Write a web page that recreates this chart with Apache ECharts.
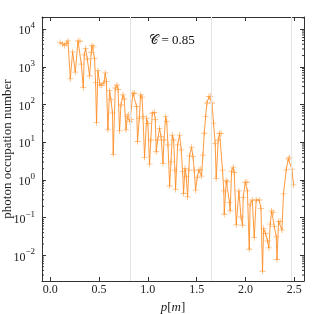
<!DOCTYPE html>
<html>
<head>
<meta charset="utf-8">
<script src="https://cdn.jsdelivr.net/npm/echarts@6/dist/echarts.min.js"></script>
<style>html,body{margin:0;padding:0;background:#fff}#c{width:322px;height:314px}</style>
</head>
<body>
<div id="c"></div>
<script>
// momentum p[m]
const momenta = [
0.100,0.125,0.147,0.165,0.181,0.205,0.229,0.256,0.284,0.304,
0.318,0.338,0.348,0.362,0.379,0.403,0.420,0.427,0.444,0.454,
0.464,0.474,0.488,0.509,0.529,0.550,0.563,0.575,0.590,0.608,
0.622,0.637,0.645,0.666,0.683,0.695,0.710,0.724,0.745,0.758,
0.776,0.789,0.800,0.816,0.830,0.847,0.864,0.885,0.894,0.912,
0.926,0.940,0.950,0.966,0.987,1.000,1.017,1.030,1.045,1.066,
1.076,1.086,1.100,1.120,1.135,1.155,1.165,1.182,1.193,1.206,
1.223,1.237,1.250,1.264,1.277,1.284,1.305,1.325,1.342,1.356,
1.366,1.380,1.393,1.407,1.420,1.427,1.448,1.462,1.475,1.489,
1.506,1.523,1.537,1.550,1.564,1.578,1.592,1.605,1.626,1.640,
1.657,1.673,1.690,1.700,1.721,1.735,1.750,1.765,1.778,1.783,
1.803,1.816,1.837,1.843,1.858,1.875,1.885,1.906,1.933,1.954,
1.970,1.977,1.998,2.015,2.020,2.039,2.048,2.070,2.090,2.110,
2.141,2.159,2.175,2.186,2.206,2.227,2.240,2.254,2.268,2.285,
2.295,2.316,2.323,2.340,2.356,2.374,2.390,2.418,2.439,2.452,
2.476,2.493
];
// photon occupation number
const occupation = [
4470,4070,3720,4170,4900,479,2510,724,4900,4790,
1180,282,2090,3090,1620,575,2450,3720,3390,1660,
389,33.1,794,331,324,372,692,407,21.4,234,
135,60.3,4.79,275,331,251,20.0,97.7,182,141,
21.4,47.9,53.7,35.5,39.8,200,200,89.1,10.5,43.6,
182,158,47.9,3.98,43.6,31.6,2.63,11.5,58.9,61.7,
39.8,5.62,11.5,23.4,14.1,2.75,11.5,47.9,35.5,8.51,
0.692,3.02,15.5,11.5,1.82,0.562,8.51,15.5,6.31,1.66,
0.437,2.04,1.23,0.355,1.82,4.37,7.41,4.17,1.82,0.537,
1.17,1.82,1.91,1.26,4.57,17.4,47.9,110,162,166,
110,32.4,9.33,1.10,11.5,17.4,17.0,1.82,0.513,0.123,
0.955,0.891,0.251,0.151,1.70,2.19,1.58,0.0646,0.513,0.105,
0.0631,0.347,0.871,0.871,0.513,0.0145,0.229,0.295,0.0295,0.295,
0.295,0.174,0.0038,0.0513,0.0380,0.0240,0.0158,0.0676,0.151,0.138,
0.0589,0.0309,0.00776,0.0794,0.0794,0.0468,0.427,1.86,3.63,3.89,
1.95,0.741
];
const resonanceLines = [0.823, 1.646, 2.469];
const xTickValues = [0, 0.5, 1.0, 1.5, 2.0, 2.5];
const xTickLabels = ['0.0', '0.5', '1.0', '1.5', '2.0', '2.5'];
const yTickExponents = [-2, -1, 0, 1, 2, 3, 4];
const annotationText = '\u{1D49E} = 0.85';

const X_MIN = -0.085, X_MAX = 2.60;
const Y_MIN = Math.pow(10, -2.68), Y_MAX = Math.pow(10, 4.324);
const FONT = 'Liberation Serif';
const AX = '#333';

const minorTicks = [];
for (let k = -3; k <= 4; k++) {
  for (let m = 2; m <= 9; m++) {
    const v = m * Math.pow(10, k);
    if (v > Y_MIN && v < Y_MAX) minorTicks.push(v);
  }
}

function xLabel(v) {
  for (let i = 0; i < xTickValues.length; i++) {
    if (Math.abs(v - xTickValues[i]) < 1e-6) return xTickLabels[i];
  }
  return '';
}
function yLabel(v) {
  const e = Math.log10(v);
  for (const t of yTickExponents) {
    if (Math.abs(e - t) < 1e-6) return '{b|10}{s|' + String(t).replace('-', '\u2212') + '}';
  }
  return '';
}

const axisBase = {
  axisLine: { show: true, onZero: false, lineStyle: { color: AX, width: 1 } },
  axisTick: { show: true, inside: true, length: 4, lineStyle: { color: AX, width: 1 } },
  splitLine: { show: false },
  minorTick: { show: false }
};

const chart = echarts.init(document.getElementById('c'), null, { renderer: 'canvas' });
chart.setOption({
  animation: false,
  backgroundColor: '#fff',
  grid: { left: 42, right: 18, top: 17, bottom: 33, containLabel: false, outerBoundsMode: 'none' },
  graphic: [{
    type: 'text', x: 172, y: 41,
    style: { text: annotationText, font: '13px "' + FONT + '"', fill: '#111', align: 'center', verticalAlign: 'middle' }
  }],
  xAxis: [
    Object.assign({}, axisBase, {
      type: 'value', min: X_MIN, max: X_MAX, position: 'bottom',
      axisLabel: { formatter: xLabel, fontFamily: FONT, fontSize: 12, color: '#222', margin: 3, showMinLabel: false, showMaxLabel: false, hideOverlap: false },
      name: '{i|p}{n|[}{i|m}{n|]}', nameLocation: 'middle', nameGap: 17,
      nameTextStyle: { rich: {
        i: { fontFamily: FONT, fontSize: 13, fontStyle: 'italic', color: '#222' },
        n: { fontFamily: FONT, fontSize: 13, color: '#222' }
      } }
    }),
    Object.assign({}, axisBase, {
      type: 'value', min: X_MIN, max: X_MAX, position: 'top',
      axisLabel: { show: false }
    })
  ],
  yAxis: [
    Object.assign({}, axisBase, {
      type: 'log', logBase: 10, min: Y_MIN, max: Y_MAX, position: 'left',
      axisLabel: {
        formatter: yLabel, margin: 7, showMinLabel: false, showMaxLabel: false,
        rich: {
          b: { fontFamily: FONT, fontSize: 12, color: '#222', lineHeight: 16, verticalAlign: 'bottom' },
          s: { fontFamily: FONT, fontSize: 9, color: '#222', lineHeight: 10, verticalAlign: 'top' }
        }
      },
      name: 'photon occupation number', nameLocation: 'middle', nameGap: 28, nameMoveOverlap: false,
      nameTextStyle: { fontFamily: FONT, fontSize: 13, color: '#222' }
    }),
    Object.assign({}, axisBase, {
      type: 'log', logBase: 10, min: Y_MIN, max: Y_MAX, position: 'right',
      axisLabel: { show: false }
    })
  ],
  series: [
    {
      type: 'line', data: [], z: 1, silent: true,
      markLine: {
        silent: true, symbol: ['none', 'none'], label: { show: false },
        lineStyle: { color: '#e3e3e3', type: 'solid', width: 1 },
        emphasis: { disabled: true },
        data: resonanceLines.map(x => ({ xAxis: x }))
      }
    },
    {
      type: 'line', z: 3,
      data: momenta.map((p, i) => [p, occupation[i]]),
      symbol: 'path://M0,4.3H10V5.7H0Z M4.3,0H5.7V10H4.3Z',
      symbolSize: 6,
      showAllSymbol: true,
      itemStyle: { color: 'rgba(255,140,30,0.6)' },
      lineStyle: { color: '#ff8a1f', width: 1, opacity: 0.85 },
      emphasis: { disabled: true }
    },
    {
      type: 'custom', z: 5, silent: true, clip: false,
      data: minorTicks.map(v => [X_MIN, v]),
      renderItem: function (params, api) {
        const v = api.value(1);
        const l = api.coord([X_MIN, v]);
        const r = api.coord([X_MAX, v]);
        return {
          type: 'group',
          children: [
            { type: 'line', shape: { x1: l[0], y1: l[1], x2: l[0] + 2, y2: l[1] }, style: { stroke: AX, lineWidth: 1 } },
            { type: 'line', shape: { x1: r[0] - 2, y1: r[1], x2: r[0], y2: r[1] }, style: { stroke: AX, lineWidth: 1 } }
          ]
        };
      }
    }
  ]
});
</script>
</body>
</html>
